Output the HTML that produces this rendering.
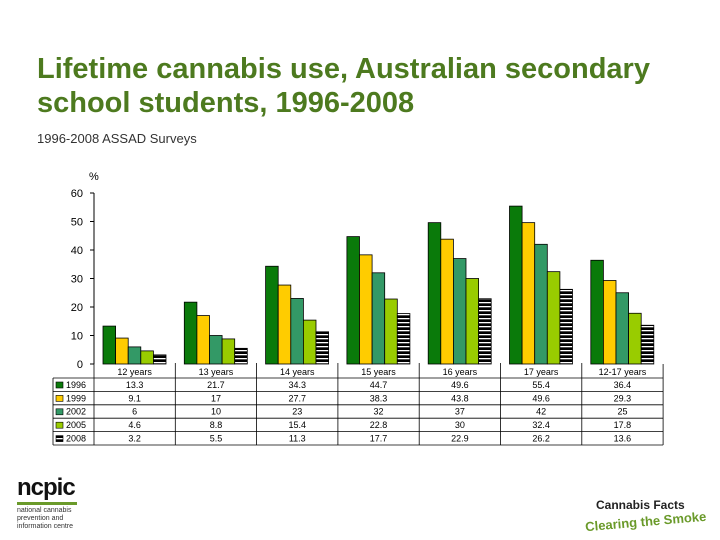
<!DOCTYPE html>
<html><head><meta charset="utf-8"><style>
body{margin:0;width:720px;height:540px;background:#fff;font-family:"Liberation Sans",sans-serif;overflow:hidden;position:relative}
.t{position:absolute;left:37px;top:52px;font-size:29px;line-height:34px;color:#4d7a1f;font-weight:bold;white-space:nowrap}
.s{position:absolute;left:37px;top:131px;font-size:13px;color:#333}
</style></head><body>
<div class="t">Lifetime cannabis use, Australian secondary<br>school students, 1996-2008</div>
<div class="s">1996-2008 ASSAD Surveys</div>
<svg id="c" width="720" height="540" style="position:absolute;left:0;top:0">
<defs><pattern id="st" width="4" height="4" patternUnits="userSpaceOnUse"><rect width="4" height="4" fill="#000"/><rect y="2" width="4" height="1.3" fill="#fff"/></pattern></defs>
</svg>
<div style="position:absolute;left:17px;top:474px;font-weight:bold;font-size:24px;color:#111;letter-spacing:-1px">ncpic</div>
<div style="position:absolute;left:17px;top:502px;width:60px;height:3px;background:#6a9a2a"></div>
<div style="position:absolute;left:17px;top:507px;font-size:7px;line-height:8px;color:#333">national cannabis<br>prevention and<br>information centre</div>
<div style="position:absolute;left:596px;top:498px;font-weight:bold;font-size:12px;color:#222;white-space:nowrap">Cannabis Facts</div>
<div style="position:absolute;left:585px;top:514px;font-weight:bold;font-size:13px;color:#6a9a2a;transform:rotate(-5deg);white-space:nowrap">Clearing the Smoke</div>
<script>
const categories=["12 years","13 years","14 years","15 years","16 years","17 years","12-17 years"];
const years=["1996","1999","2002","2005","2008"];
const s1996=[13.3,21.7,34.3,44.7,49.6,55.4,36.4];
const s1999=[9.1,17,27.7,38.3,43.8,49.6,29.3];
const s2002=[6,10,23,32,37,42,25];
const s2005=[4.6,8.8,15.4,22.8,30,32.4,17.8];
const s2008=[3.2,5.5,11.3,17.7,22.9,26.2,13.6];
const yTicks=[0,10,20,30,40,50,60];
const series=[s1996,s1999,s2002,s2005,s2008];
const colors=["#0a7a0a","#ffcc00","#339966","#99cc00","url(#st)"];
const svg=document.getElementById('c');const NS="http://www.w3.org/2000/svg";
const x0=94,cw=81.3,y0=364,ppu=2.85;
const y=v=>y0-v*ppu;
function mk(t,a,txt){const e=document.createElementNS(NS,t);for(const k in a)e.setAttribute(k,a[k]);if(txt!=null)e.textContent=txt;svg.appendChild(e);return e;}
let e=mk('text',{x:89,y:180,'font-size':11,fill:'#000'},'%');


e=mk('line',{x1:x0,y1:y(60),x2:x0,y2:y0,stroke:'#000'});


yTicks.forEach(t=>{mk('line',{x1:x0-4,x2:x0,y1:y(t),y2:y(t),stroke:'#000'});
e=mk('text',{x:83,y:y(t)+4,'font-size':11,'text-anchor':'end',fill:'#000'},t);

});
categories.forEach((c,i)=>{const g=x0+i*cw;
series.forEach((s,j)=>{e=mk('rect',{x:g+9+j*12.6,y:y(s[i]),width:12.6,height:s[i]*ppu,fill:colors[j],stroke:'#000','stroke-width':0.8});

});
});
const tTop=366,rh=13.4,lx=53,tR=x0+7*cw;
mk('line',{x1:lx,x2:tR,y1:tTop+12,y2:tTop+12,stroke:'#000','stroke-width':0.8});
years.forEach((yr,k)=>{const ry=tTop+12+(k+1)*rh;mk('line',{x1:lx,x2:tR,y1:ry,y2:ry,stroke:'#000','stroke-width':0.8});
e=mk('rect',{x:lx+3,y:ry-rh+4,width:7,height:6,fill:colors[k],stroke:'#000','stroke-width':0.6});


e=mk('text',{x:lx+13,y:ry-3.5,'font-size':9,fill:'#000'},yr);


categories.forEach((c,i)=>{e=mk('text',{x:x0+(i+0.5)*cw,y:ry-3.5,'font-size':9,'text-anchor':'middle',fill:'#000'},series[k][i]);

});
});
const tB=tTop+12+5*rh;
mk('line',{x1:lx,x2:lx,y1:tTop+12,y2:tB,stroke:'#000','stroke-width':0.8});
for(let i=0;i<=7;i++){mk('line',{x1:x0+i*cw,x2:x0+i*cw,y1:i==0||i==7?y0:y0-1,y2:tB,stroke:'#000','stroke-width':0.8});}
categories.forEach((c,i)=>{e=mk('text',{x:x0+(i+0.5)*cw,y:tTop+9,'font-size':9,'text-anchor':'middle',fill:'#000'},c);

});
</script>
</body></html>
